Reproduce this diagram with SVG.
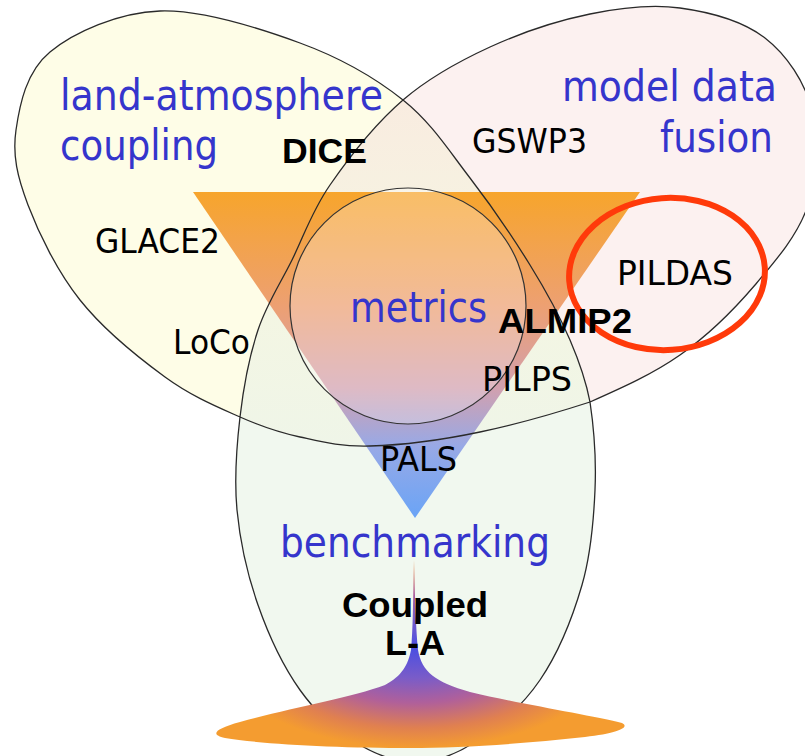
<svg xmlns="http://www.w3.org/2000/svg" width="805" height="756" viewBox="0 0 805 756">
<defs>
<style>
.blue{font-family:"DejaVu Sans","Verdana",sans-serif;font-size:42px;fill:#3535cc}
.lbl{font-family:"DejaVu Sans","Verdana",sans-serif;font-size:34px;fill:#000}
.bold{font-family:"Liberation Sans",Arial,sans-serif;font-weight:bold;font-size:35px;fill:#000}
.line{fill:none;stroke:#2a2a2a;stroke-width:1.3}
</style>
<linearGradient id="tri" gradientUnits="userSpaceOnUse" x1="0" y1="192" x2="0" y2="518">
<stop offset="0" stop-color="#f7a52c"/>
<stop offset="0.35" stop-color="#eda072"/>
<stop offset="0.6" stop-color="#d2a0ae"/>
<stop offset="0.78" stop-color="#98a9e6"/>
<stop offset="1" stop-color="#6aa4f6"/>
</linearGradient>
<linearGradient id="ctr" gradientUnits="userSpaceOnUse" x1="0" y1="100" x2="0" y2="446">
<stop offset="0" stop-color="#f9ece0"/>
<stop offset="0.55" stop-color="#f4f6e2"/>
<stop offset="1" stop-color="#eff5e8"/>
</linearGradient>
<radialGradient id="bell" gradientUnits="userSpaceOnUse" cx="415" cy="648" r="100" gradientTransform="translate(415 648) scale(2 1) translate(-415 -648)">
<stop offset="0" stop-color="#4a4fe2"/>
<stop offset="0.3" stop-color="#7a5cc8"/>
<stop offset="0.55" stop-color="#b0609a"/>
<stop offset="0.8" stop-color="#e08050"/>
<stop offset="1" stop-color="#f49c30"/>
</radialGradient>
</defs>
<rect width="805" height="756" fill="#ffffff"/>

<g id="lobe-land-atmosphere">
<path fill="#fefde7" d="M240,417 C217.5,407 191.7,396.5 165,377 C138.3,357.5 102.8,328.7 80,300 C57.2,271.3 38.7,233.3 28,205 C17.3,176.7 12.3,155.5 16,130 C19.7,104.5 26,71.8 50,52 C74,32.2 118.3,12.5 160,11 C201.7,9.5 259.5,28.2 300,43 C340.5,57.8 374.7,77.5 403,100 C376.3,123 348.5,158.3 330,185 C311.5,211.7 304,235.8 292,260 C280,284.2 266.7,303.8 258,330 C249.3,356.2 243.5,387 240,417 Z"/>
</g>
<g id="lobe-model-data-fusion">
<path fill="#fcf1f0" d="M403,100 C429.7,77 458.8,61.3 490,47 C521.2,32.7 558.3,20.5 590,14 C621.7,7.5 650.8,4 680,8 C709.2,12 743,21 765,38 C787,55 804.8,82.2 812,110 C819.2,137.8 817.5,175.8 808,205 C798.5,234.2 776.3,260 755,285 C733.7,310 707.5,335.8 680,355 C652.5,374.2 623.3,387.2 590,402 C585.8,380 580,363.3 570,340 C560,316.7 546.7,292 530,265 C513.3,238 491.2,205.5 470,178 C448.8,150.5 431.3,122.5 403,100 Z"/>
</g>
<g id="lobe-benchmarking">
<path fill="#f1f8ef" d="M590,402 C594.2,430 596.3,460 595,490 C593.7,520 591.2,553.3 582,585 C572.8,616.7 557.8,653.8 540,680 C522.2,706.2 495.8,728.3 475,742 C454.2,755.7 435,762 415,762 C395,762 374.2,754 355,742 C335.8,730 316.2,712.8 300,690 C283.8,667.2 268.5,635 258,605 C247.5,575 240,541.3 237,510 C234,478.7 236.5,447 240,417 C262.5,427 278.3,432.2 300,437 C321.7,441.8 340,446.8 370,446 C400,445.2 443.3,439.7 480,432 C516.7,424.3 556.7,412.8 590,402 Z"/>
</g>
<g id="center">
<path fill="url(#ctr)" d="M240,417 C243.5,387 249.3,356.2 258,330 C266.7,303.8 280,284.2 292,260 C304,235.8 311.5,211.7 330,185 C348.5,158.3 376.3,123 403,100 C431.3,122.5 448.8,150.5 470,178 C491.2,205.5 513.3,238 530,265 C546.7,292 560,316.7 570,340 C580,363.3 585.8,380 590,402 C556.7,412.8 516.7,424.3 480,432 C443.3,439.7 400,445.2 370,446 C340,446.8 321.7,441.8 300,437 C278.3,432.2 262.5,427 240,417 Z"/>
</g>

<g id="funnel">
<polygon points="193,192 640,192 415,518" fill="url(#tri)"/>
</g>

<g id="metrics">
<circle cx="408" cy="306" r="118" fill="#ffffff" fill-opacity="0.28" stroke="#333" stroke-width="1.2"/>
</g>

<g id="connectors">
<path class="line" d="M403,100 C431.3,122.5 448.8,150.5 470,178 C491.2,205.5 513.3,238 530,265 C546.7,292 560,316.7 570,340 C580,363.3 585.8,380 590,402 C594.2,430 596.3,460 595,490 C593.7,520 591.2,553.3 582,585 C572.8,616.7 557.8,653.8 540,680 C522.2,706.2 495.8,728.3 475,742 C454.2,755.7 435,762 415,762 C395,762 374.2,754 355,742 C335.8,730 316.2,712.8 300,690 C283.8,667.2 268.5,635 258,605 C247.5,575 240,541.3 237,510 C234,478.7 236.5,447 240,417 C243.5,387 249.3,356.2 258,330 C266.7,303.8 280,284.2 292,260 C304,235.8 311.5,211.7 330,185 C348.5,158.3 376.3,123 403,100 C429.7,77 458.8,61.3 490,47 C521.2,32.7 558.3,20.5 590,14 C621.7,7.5 650.8,4 680,8 C709.2,12 743,21 765,38 C787,55 804.8,82.2 812,110 C819.2,137.8 817.5,175.8 808,205 C798.5,234.2 776.3,260 755,285 C733.7,310 707.5,335.8 680,355 C652.5,374.2 623.3,387.2 590,402 C556.7,412.8 516.7,424.3 480,432 C443.3,439.7 400,445.2 370,446 C340,446.8 321.7,441.8 300,437 C278.3,432.2 262.5,427 240,417 C217.5,407 191.7,396.5 165,377 C138.3,357.5 102.8,328.7 80,300 C57.2,271.3 38.7,233.3 28,205 C17.3,176.7 12.3,155.5 16,130 C19.7,104.5 26,71.8 50,52 C74,32.2 118.3,12.5 160,11 C201.7,9.5 259.5,28.2 300,43 C340.5,57.8 374.7,77.5 403,100 Z"/>
</g>

<g id="coupled-shape">
<path fill="url(#bell)" d="M414,560 C415,600 416,630 418,650 C422,672 435,682 470,692 C520,704 590,715 622,723 C630,727 620,733 585,737 C520,744 460,748 410,748 C340,748 260,744 225,738 C210,735 214,729 240,722 C290,708 350,698 385,685 C402,676 408,665 411,650 C413,630 413,600 414,560 Z"/>
</g>

<g id="pildas-highlight">
<ellipse cx="667" cy="274" rx="98" ry="76" transform="rotate(-4 667 274)" fill="none" stroke="#ff3a0a" stroke-width="6"/>
</g>

<g id="label-land-atmosphere-coupling">
<text class="blue" x="60" y="110" textLength="323" lengthAdjust="spacingAndGlyphs">land-atmosphere</text>
<text class="blue" x="60" y="160" textLength="158" lengthAdjust="spacingAndGlyphs">coupling</text>
</g>
<g id="label-model-data-fusion">
<text class="blue" x="562" y="101" textLength="215" lengthAdjust="spacingAndGlyphs">model data</text>
<text class="blue" x="660" y="152" textLength="113" lengthAdjust="spacingAndGlyphs">fusion</text>
</g>
<g id="label-metrics">
<text class="blue" x="350" y="322" textLength="137" lengthAdjust="spacingAndGlyphs">metrics</text>
</g>
<g id="label-benchmarking">
<text class="blue" x="280" y="557" textLength="270" lengthAdjust="spacingAndGlyphs">benchmarking</text>
</g>

<g id="node-DICE"><text class="bold" x="282" y="163" textLength="85" lengthAdjust="spacingAndGlyphs">DICE</text></g>
<g id="node-GSWP3"><text class="lbl" x="472" y="153" textLength="115" lengthAdjust="spacingAndGlyphs">GSWP3</text></g>
<g id="node-GLACE2"><text class="lbl" x="95" y="253" textLength="125" lengthAdjust="spacingAndGlyphs">GLACE2</text></g>
<g id="node-PILDAS"><text class="lbl" x="617" y="285" textLength="116" lengthAdjust="spacingAndGlyphs">PILDAS</text></g>
<g id="node-ALMIP2"><text class="bold" x="498" y="333" textLength="134" lengthAdjust="spacingAndGlyphs">ALMIP2</text></g>
<g id="node-LoCo"><text class="lbl" x="173" y="354" textLength="77" lengthAdjust="spacingAndGlyphs">LoCo</text></g>
<g id="node-PILPS"><text class="lbl" x="482" y="391" textLength="90" lengthAdjust="spacingAndGlyphs">PILPS</text></g>
<g id="node-PALS"><text class="lbl" x="380" y="471" textLength="77" lengthAdjust="spacingAndGlyphs">PALS</text></g>
<g id="node-coupled-LA">
<text class="bold" x="342" y="617" textLength="146" lengthAdjust="spacingAndGlyphs">Coupled</text>
<text class="bold" x="385" y="655" textLength="60" lengthAdjust="spacingAndGlyphs">L-A</text>
</g>
</svg>
